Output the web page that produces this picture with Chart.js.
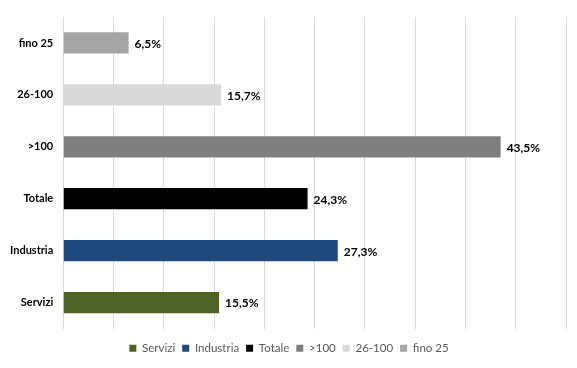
<!DOCTYPE html>
<html>
<head>
<meta charset="utf-8">
<script src="https://cdn.jsdelivr.net/npm/chart.js@4/dist/chart.umd.min.js"></script>
<style>
  html, body { margin: 0; padding: 0; background: #fff; }
  #wrap { width: 577px; height: 368px; position: relative; }
</style>
</head>
<body>
<div id="wrap"><canvas id="chart"></canvas></div>
<script>
// Categories, top to bottom as shown on the axis
const categories = ['fino 25', '26-100', '>100', 'Totale', 'Industria', 'Servizi'];
// Values (%), same order as categories
const values = [6.5, 15.7, 43.5, 24.3, 27.3, 15.5];
// Legend order (one dataset per category)
const legendOrder = ['Servizi', 'Industria', 'Totale', '>100', '26-100', 'fino 25'];
const barColors = {
  'fino 25': '#a5a5a5',
  '26-100': '#d9d9d9',
  '>100': '#7f7f7f',
  'Totale': '#000000',
  'Industria': '#1f497d',
  'Servizi': '#4f6228',
};
const xTicks = { min: 0, max: 50, step: 5 };

const FONT = 'Lato, "Open Sans", sans-serif';

// "6.5" -> "6,5%"
function pct(v) { return v.toFixed(1).replace('.', ',') + '%'; }

const datasets = legendOrder.map(name => ({
  label: name,
  data: categories.map((c, i) => (c === name ? values[i] : null)),
  backgroundColor: barColors[name],
  barPercentage: 0.41,
  categoryPercentage: 1,
}));

// draws the value right after the end of each bar
const barLabels = {
  id: 'barLabels',
  afterDatasetsDraw(chart) {
    const ctx = chart.ctx;
    ctx.save();
    ctx.font = 'bold 12px ' + FONT;
    ctx.fillStyle = '#000';
    ctx.textBaseline = 'middle';
    ctx.textAlign = 'left';
    chart.data.datasets.forEach((ds, di) => {
      chart.getDatasetMeta(di).data.forEach((bar, i) => {
        const v = ds.data[i];
        if (v === null || v === undefined) return;
        ctx.fillText(pct(v), bar.x + 6, bar.y + 1);
      });
    });
    ctx.restore();
  },
};

// nudge the legend a little to the right (centered under the whole picture)
const legendShift = {
  id: 'legendShift',
  afterLayout(chart) {
    if (!chart.legend) return;
    chart.legend.left += 6;
    chart.legend.right += 6;
  },
};

new Chart(document.getElementById('chart'), {
  type: 'bar',
  data: { labels: categories, datasets },
  options: {
    indexAxis: 'y',
    responsive: true, maintainAspectRatio: false,
    animation: false,
    layout: { padding: { top: 17, right: 11, left: 0, bottom: 4 } },
    plugins: {
      legend: {
        position: 'bottom',
        labels: {
          color: '#595959', font: { family: FONT, size: 11.5 },
          boxWidth: 7, boxHeight: 7, padding: 7,
        },
      },
      tooltip: { enabled: false },
    },
    scales: {
      x: {
        stacked: true,
        min: xTicks.min, max: xTicks.max,
        ticks: { display: false, stepSize: xTicks.step },
        grid: { color: '#d9d9d9', drawTicks: false },
        border: { display: false },
        afterFit: (scale) => { scale.height += 7; },
      },
      y: {
        stacked: true,
        grid: { display: false, drawTicks: false },
        border: { display: false },
        ticks: { color: '#000', padding: 10, font: { family: FONT, size: 11, weight: 'bold' } },
      },
    },
  },
  plugins: [barLabels, legendShift],
});
</script>
</body>
</html>
